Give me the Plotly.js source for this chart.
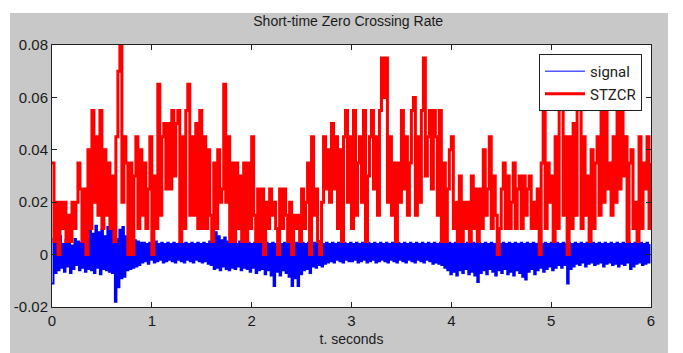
<!DOCTYPE html>
<html><head><meta charset="utf-8">
<script src="https://cdn.plot.ly/plotly-3.0.1.min.js"></script>
<style>
html,body{margin:0;padding:0;background:#fff;width:683px;height:353px;overflow:hidden}
#chart{position:absolute;left:10px;top:13px;width:658px;height:340px}
</style>
</head><body><div id="chart"></div>
<script>
// time axis of each series (seconds)
const signalStart = 0, signalStep = 0.015;
const stzcrStart = 0, stzcrStep = 0.02;

// speech signal amplitude, in units of 0.0001
const signalTenThousandths = [
 -110, 60, -70, 45, -60, 70, -50, 40, -65, 55, -45, 50, -70, 35, -55, 60, -40, 50, -60, 45,
 -50, 55, -65, 90, -55, 100, -60, 80, -70, 110, -50, 85, -75, 95, -55, 70, -60, 105, -65, 90,
 -70, 100, -180, 60, -125, 95, -90, 105, -85, 70, -60, 65, -55, 60, -50, 55, -45, 50, -40, 45,
 -30, 45, -25, 40, -35, 45, -20, 40, -30, 50, -25, 40, -20, 45, -30, 40, -25, 45, -20, 40,
 -25, 45, -30, 40, -20, 45, -25, 40, -30, 45, -20, 40, -25, 45, -30, 40, -20, 45, -25, 40,
 -30, 45, -25, 40, -35, 50, -40, 60, -55, 85, -50, 70, -60, 55, -45, 65, -55, 50, -60, 45,
 -50, 45, -55, 40, -45, 50, -60, 45, -50, 40, -55, 45, -65, 40, -50, 45, -70, 40, -60, 45,
 -55, 40, -75, 45, -60, 40, -80, 45, -120, 40, -65, 45, -80, 40, -60, 45, -70, 40, -85, 45,
 -120, 40, -90, 45, -120, 40, -75, 45, -60, 40, -55, 45, -70, 40, -45, 45, -50, 40, -40, 45,
 -45, 40, -35, 45, -30, 40, -25, 45, -30, 40, -20, 45, -25, 40, -30, 45, -20, 40, -25, 45,
 -25, 40, -20, 45, -30, 40, -25, 45, -20, 40, -30, 45, -25, 40, -20, 45, -30, 40, -25, 45,
 -20, 40, -25, 45, -30, 40, -20, 45, -25, 40, -30, 45, -20, 40, -25, 45, -30, 40, -20, 45,
 -25, 40, -30, 45, -20, 40, -25, 45, -30, 40, -20, 45, -25, 40, -35, 45, -30, 40, -35, 45,
 -40, 45, -50, 40, -60, 45, -75, 40, -65, 45, -80, 40, -60, 45, -70, 40, -55, 45, -75, 40,
 -65, 45, -80, 40, -105, 45, -70, 40, -60, 45, -75, 40, -55, 45, -65, 40, -80, 45, -60, 40,
 -70, 45, -55, 40, -75, 45, -65, 40, -80, 45, -60, 40, -70, 45, -85, 40, -95, 45, -65, 40,
 -55, 45, -75, 40, -60, 45, -50, 40, -65, 45, -55, 40, -45, 45, -60, 40, -50, 45, -40, 40,
 -50, 45, -40, 40, -110, 45, -55, 40, -45, 45, -35, 40, -40, 45, -30, 40, -45, 45, -35, 40,
 -30, 45, -40, 40, -35, 45, -30, 40, -45, 45, -35, 40, -30, 45, -40, 40, -35, 45, -45, 40,
 -35, 45, -40, 40, -30, 45, -55, 40, -45, 45, -35, 40, -30, 45, -40, 40, -35, 45, -30, 40
];

// short-time zero crossing rate, in units of 0.001
const stzcrThousandths = [
 35, 5, 20, 0, 20, 10, 20, 5, 15, 5,
 20, 10, 20, 35, 25, 5, 25, 0, 40, 10,
 55, 20, 45, 15, 55, 10, 40, 15, 35, 10,
 30, 5, 45, 70, 80, 20, 45, 35, 0, 35,
 0, 30, 45, 10, 40, 15, 35, 10, 25, 45,
 0, 30, 10, 65, 15, 45, 50, 25, 50, 25,
 55, 30, 50, 55, 5, 45, 10, 55, 65, 15,
 45, 15, 50, 10, 55, 10, 45, 10, 40, 15,
 5, 35, 10, 40, 20, 25, 65, 20, 45, 5,
 35, 5, 35, 10, 30, 5, 35, 5, 35, 10,
 45, 15, 5, 25, 5, 25, 0, 20, 10, 25,
 15, 20, 10, 0, 25, 10, 25, 15, 5, 20,
 0, 15, 10, 15, 5, 25, 10, 20, 35, 0,
 45, 15, 25, 5, 0, 20, 45, 25, 40, 20,
 50, 25, 45, 10, 40, 5, 45, 55, 20, 45,
 10, 55, 15, 35, 45, 20, 55, 5, 30, 45,
 55, 25, 45, 15, 55, 75, 60, 75, 20, 45,
 15, 35, 5, 35, 20, 55, 25, 45, 15, 35,
 55, 60, 15, 45, 20, 55, 75, 30, 45, 55,
 25, 55, 45, 15, 55, 5, 35, 5, 25, 40,
 45, 10, 20, 5, 30, 5, 20, 10, 20, 5,
 30, 10, 25, 5, 25, 10, 40, 15, 25, 45,
 10, 30, 15, 0, 10, 25, 35, 10, 30, 10,
 20, 35, 10, 25, 30, 10, 30, 15, 25, 30,
 10, 20, 10, 25, 0, 35, 65, 10, 35, 20,
 30, 5, 45, 10, 60, 60, 15, 45, 0, 45,
 10, 50, 15, 60, 60, 10, 45, 15, 30, 5,
 40, 10, 35, 45, 15, 60, 20, 60, 25, 35,
 15, 45, 20, 60, 25, 60, 30, 45, 5, 35,
 40, 10, 20, 5, 45, 10, 35, 25, 45, 10,
 35
];

const xTickVals = [0, 1, 2, 3, 4, 5, 6];
const yTickVals = [-0.02, 0, 0.02, 0.04, 0.06, 0.08];
const yTickText = ['-0.02', '0', '0.02', '0.04', '0.06', '0.08'];

const signal = signalTenThousandths.map(v => v / 10000);
const stzcr = stzcrThousandths.map(v => v / 1000);

const sans = '"Liberation Sans", Arial, sans-serif';

const traces = [
  // legend entry only (thin line sample, as in the original); no visible point
  {type: 'scatter', mode: 'lines', name: 'signal', legendgroup: 'a',
   x0: signalStart, dx: signalStep, y: [null],
   line: {color: '#0000ff', width: 1}, hoverinfo: 'skip'},
  {type: 'scatter', mode: 'lines', name: 'signal', legendgroup: 'a', showlegend: false,
   x0: signalStart, dx: signalStep, y: signal,
   line: {color: '#0000ff', width: 2, shape: 'hv'}, hoverinfo: 'skip'},
  {type: 'scatter', mode: 'lines', name: 'STZCR', legendgroup: 'b',
   x0: stzcrStart, dx: stzcrStep, y: stzcr,
   line: {color: '#ff0000', width: 3, shape: 'hv'}, hoverinfo: 'skip'}
];

const axisCommon = {
  showline: true, linecolor: '#222', linewidth: 1, mirror: 'ticks',
  ticks: 'inside', ticklen: 5, tickcolor: '#222', tickwidth: 1,
  showgrid: false, zeroline: false,
  tickfont: {family: sans, size: 15, color: '#1a1a1a'}
};

const layout = {
  width: 658, height: 340,
  paper_bgcolor: '#c8c8c8', plot_bgcolor: '#ffffff',
  margin: {l: 42, r: 17, t: 32, b: 46},
  showlegend: true,
  title: {text: 'Short-time Zero Crossing Rate', font: {family: sans, size: 14, color: '#1a1a1a'},
          x: 0.514, xanchor: 'center', y: 0.975, yanchor: 'middle', yref: 'container'},
  xaxis: Object.assign({}, axisCommon, {
    range: [0, 6], tickmode: 'array', tickvals: xTickVals,
    title: {text: 't. seconds', font: {family: sans, size: 14, color: '#1a1a1a'}, standoff: 6}
  }),
  yaxis: Object.assign({}, axisCommon, {
    range: [-0.02, 0.08], tickmode: 'array', tickvals: yTickVals, ticktext: yTickText
  }),
  legend: {x: 0.813, y: 0.966, xanchor: 'left', yanchor: 'top',
           bgcolor: '#ffffff', bordercolor: '#222', borderwidth: 1,
           font: {family: 'Roboto, "Liberation Sans", sans-serif', size: 15, color: '#222'},
           tracegroupgap: 10, traceorder: 'normal', itemwidth: 40}
};

Plotly.newPlot('chart', traces, layout, {staticPlot: true, displayModeBar: false});
</script>
</body></html>
